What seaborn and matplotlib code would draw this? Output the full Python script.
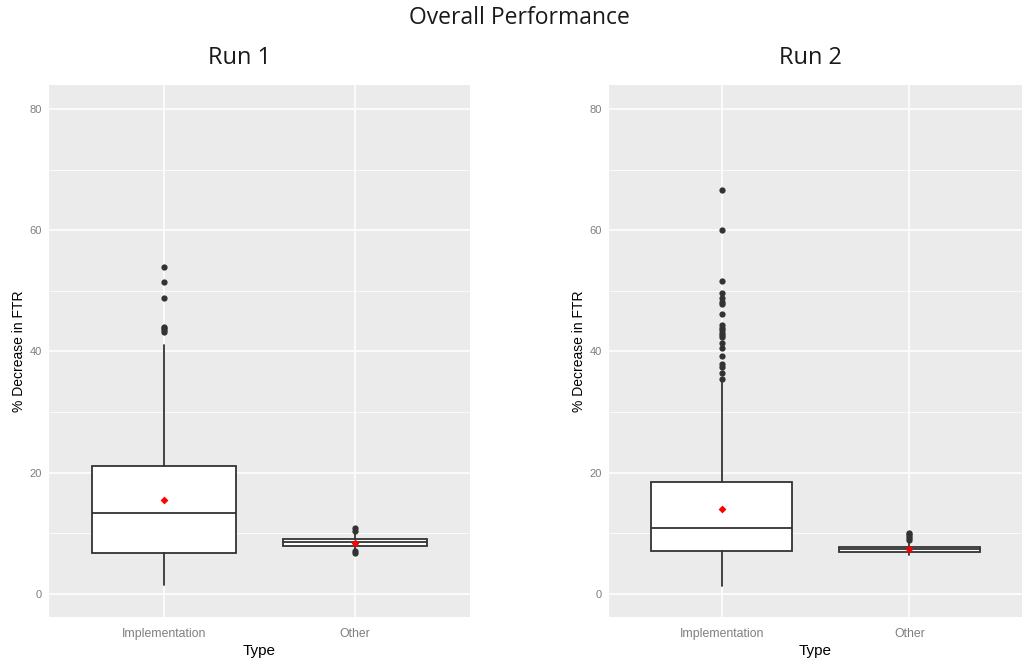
import matplotlib
matplotlib.use("Agg")
import matplotlib.pyplot as plt
import seaborn as sns
import pandas as pd

# ---- summary statistics per run and type ----
types = ["Implementation", "Other"]

run1_q1 = [6.8, 7.95]
run1_median = [13.3, 8.5]
run1_q3 = [21.1, 9.05]
run1_whislo = [1.5, 7.4]
run1_whishi = [41.1, 9.8]
run1_mean = [15.4, 8.4]
run1_out_impl = [54.0, 51.4, 48.8, 44.1, 43.8, 43.5, 43.2]
run1_out_other = [10.8, 10.4, 7.0, 6.8]

run2_q1 = [7.0, 6.9]
run2_median = [10.9, 7.35]
run2_q3 = [18.4, 7.7]
run2_whislo = [1.2, 6.4]
run2_whishi = [35.3, 8.5]
run2_mean = [14.0, 7.35]
run2_out_impl = [66.7, 60.0, 51.6, 49.6, 48.8, 48.2, 47.9, 46.2, 44.3, 43.9,
                 43.5, 43.1, 42.7, 42.4, 41.4, 40.5, 39.2, 38.0, 37.5, 36.5, 35.4]
run2_out_other = [10.1, 9.8, 9.5, 9.2, 8.9]

y_ticks = [0, 20, 40, 60, 80]

sns.set_theme(style="darkgrid", rc={
    "axes.facecolor": "#EBEBEB",
    "grid.color": "white",
    "grid.linewidth": 1.1,
})
plt.rcParams["font.family"] = ["Liberation Sans", "DejaVu Sans"]

fig = plt.figure(figsize=(10.22, 6.6), dpi=100)
W, H = 1022, 660
ax1 = fig.add_axes([49 / W, 1 - 617 / H, (470 - 49) / W, (617 - 85) / H])
ax2 = fig.add_axes([609 / W, 1 - 617 / H, (1022 - 609) / W, (617 - 85) / H])

line_col = "#333333"


def draw_panel(ax, q1, med, q3, wlo, whi, means, out_impl, out_other):
    stats = []
    for i in range(len(types)):
        stats.append(dict(label=types[i], q1=q1[i], med=med[i], q3=q3[i],
                          whislo=wlo[i], whishi=whi[i], fliers=[]))
    props = dict(color=line_col, linewidth=1.3)
    ax.bxp(stats, positions=[0, 1], widths=0.75, patch_artist=True,
           showfliers=False, showcaps=False,
           boxprops=dict(facecolor="white", edgecolor=line_col, linewidth=1.3),
           medianprops=props, whiskerprops=props, zorder=3)

    outliers = pd.DataFrame({
        "Type": [types[0]] * len(out_impl) + [types[1]] * len(out_other),
        "value": out_impl + out_other,
    })
    sns.stripplot(data=outliers, x="Type", y="value", order=types, jitter=False,
                  color="#333333", size=4.5, linewidth=0, ax=ax, zorder=4)
    mean_df = pd.DataFrame({"Type": types, "value": means})
    sns.stripplot(data=mean_df, x="Type", y="value", order=types, jitter=False,
                  color="red", marker="D", size=4, linewidth=0, ax=ax, zorder=5)

    ax.set_xlim(-0.6, 1.6)
    ax.set_ylim(-3.85, 84.0)
    ax.set_yticks(y_ticks)
    ax.set_yticks([10, 30, 50, 70], minor=True)
    ax.grid(True, which="major", color="white", linewidth=1.1)
    ax.grid(True, which="minor", axis="y", color="white", linewidth=0.55)
    ax.set_axisbelow(True)
    ax.tick_params(axis="both", which="major", length=3, width=0.8,
                   color="#333333", labelsize=8, labelcolor="#7F7F7F", pad=2)
    ax.tick_params(axis="x", which="major", labelsize=8.8, pad=5)
    ax.tick_params(axis="y", which="minor", length=0)
    ax.set_xticks([0, 1])
    ax.set_xticklabels(types)
    ax.set_xlabel("Type", fontsize=11, color="black", labelpad=3)
    ax.set_ylabel("% Decrease in FTR", fontsize=10, color="black", labelpad=3)
    for s in ax.spines.values():
        s.set_visible(False)


draw_panel(ax1, run1_q1, run1_median, run1_q3, run1_whislo, run1_whishi,
           run1_mean, run1_out_impl, run1_out_other)
draw_panel(ax2, run2_q1, run2_median, run2_q3, run2_whislo, run2_whishi,
           run2_mean, run2_out_impl, run2_out_other)

title_font = ["Open Sans", "DejaVu Sans"]
fig.text(519 / W, 1 - 18 / H, "Overall Performance", ha="center", va="center",
         fontsize=16.5, color="#1a1a1a", family=title_font)
fig.text(240 / W, 1 - 58 / H, "Run 1", ha="center", va="center",
         fontsize=17, color="#1a1a1a", family=title_font)
fig.text(810 / W, 1 - 58 / H, "Run 2", ha="center", va="center",
         fontsize=17, color="#1a1a1a", family=title_font)

fig.savefig("out.png", dpi=100)
